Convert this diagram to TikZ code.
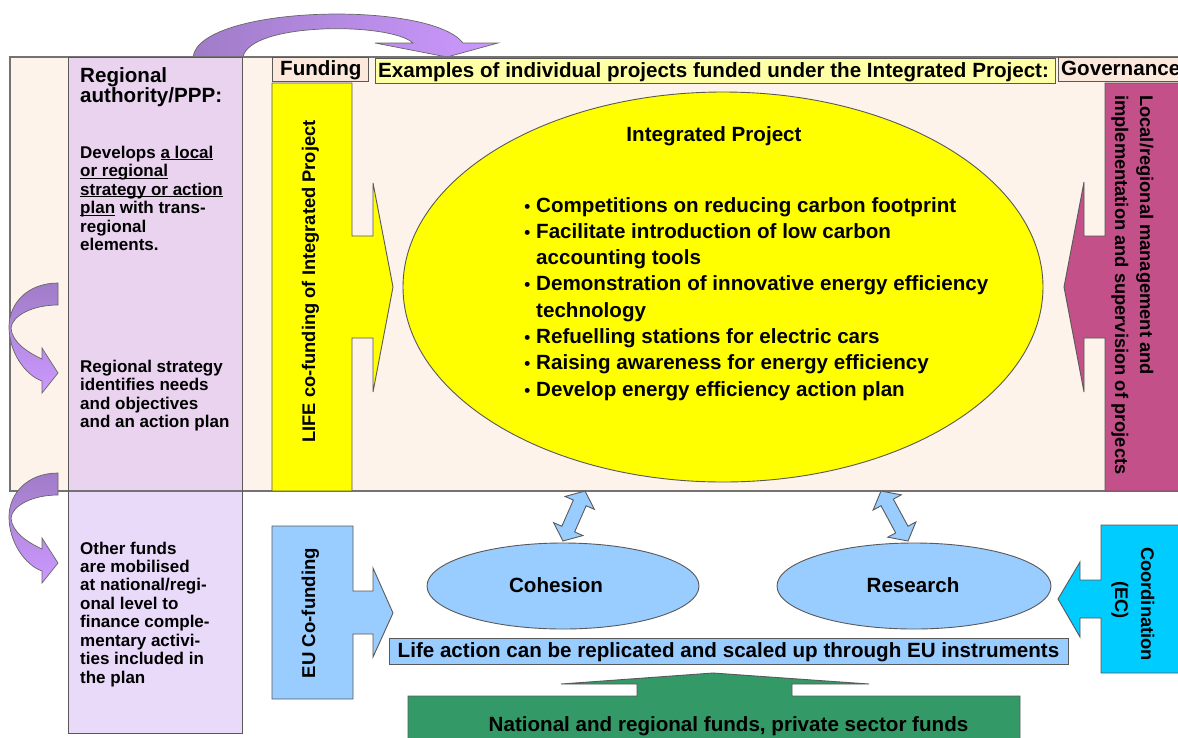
\documentclass[tikz,border=0pt]{standalone}
\usepackage{fontspec}
\setmainfont{Liberation Sans}
\usetikzlibrary{calc,shapes.geometric}
\definecolor{peach}{HTML}{FDF3EA}
\definecolor{colup}{HTML}{E9D3EF}
\definecolor{collo}{HTML}{EADAFA}
\definecolor{lblpeach}{HTML}{FCE9DB}
\definecolor{lblyellow}{HTML}{FFFFA5}
\definecolor{lifeyellow}{HTML}{FFFF00}
\definecolor{magentaarrow}{HTML}{C4508A}
\definecolor{lightblue}{HTML}{99CCFF}
\definecolor{cyanarrow}{HTML}{00CCFF}
\definecolor{greenbox}{HTML}{339966}
\definecolor{purpledark}{HTML}{A07CC8}
\definecolor{purplelight}{HTML}{CC99FF}
\newcommand\myul[1]{\setbox0\hbox{#1}\rlap{\rule[-2.4pt]{\wd0}{1.2pt}}\box0\relax}
\newcommand\blockdbl[2]{%
  \coordinate (da) at ($(#1)!13pt!(#2)$);
  \coordinate (db) at ($(#2)!13pt!(#1)$);
  \path[edge, fill=lightblue] (#1) -- ($(da)!16pt!90:(#2)$) -- ($(da)!7pt!90:(#2)$)
    -- ($(db)!7pt!-90:(#1)$) -- ($(db)!16pt!-90:(#1)$) -- (#2)
    -- ($(db)!16pt!90:(#1)$) -- ($(db)!7pt!90:(#1)$)
    -- ($(da)!7pt!-90:(#2)$) -- ($(da)!16pt!-90:(#2)$) -- cycle;}
\begin{document}
\begin{tikzpicture}[x=1pt,y=-1pt,
  edge/.style={draw=black!65, line width=0.9pt},
  bandedge/.style={draw=black!55, line width=1.3pt},
  lt/.style={inner sep=0pt, font=\bfseries\fontsize{17}{18.5}\selectfont, anchor=base west},
  hd/.style={inner sep=0pt, font=\bfseries\fontsize{20.6}{24}\selectfont},
  vt/.style={inner sep=0pt, font=\bfseries\fontsize{18.3}{22}\selectfont},
  curvarrow/.style={draw=black!60, line width=0.7pt, top color=purpledark, bottom color=purplelight},
  ]
\useasboundingbox (0,0) rectangle (1178,737);
\clip (0,0) rectangle (1178,737);
\fill[white] (0,0) rectangle (1178,737);

% top arc arrow
\path[draw=black!60, line width=0.7pt, left color=purpledark, right color=purplelight]
  (193,57) .. controls (200,5) and (430,0) .. (463,43) -- (498,43) -- (447,57) -- (375,43) -- (413,43)
  .. controls (390,22) and (250,22) .. (243,57) -- cycle;

% band and column
\fill[peach] (10,57) rectangle (1190,491);
\fill[colup] (68,57) rectangle (242,491);
\fill[collo] (68,491) rectangle (242,733);
\draw[bandedge] (1190,57) -- (10,57) -- (10,491) -- (1190,491);
\draw[edge] (68,57) rectangle (242,733);

% label boxes
\draw[edge, fill=lblpeach] (272,57) rectangle (368,81);
\draw[edge, fill=lblyellow] (375,58) rectangle (1055,83);
\draw[edge, fill=lblpeach] (1058,57) rectangle (1190,81);
\node[hd, anchor=base west] (funding) at (280,75) {Funding};
\node[hd, anchor=base west] (examples) at (378,77) {Examples of individual projects funded under the Integrated Project:};
\node[hd, anchor=base west] (governance) at (1061,75) {Governance};

% yellow LIFE arrow
\path[edge, fill=lifeyellow] (272,83) -- (352,83) -- (352,236) -- (373,236) -- (373,183) -- (393,287)
  -- (373,392) -- (373,338) -- (352,338) -- (352,491) -- (272,491) -- cycle;
\node[vt, rotate=90, anchor=base] (life) at (315,281.5) {LIFE co-funding of Integrated Project};

% magenta governance arrow
\path[edge, fill=magentaarrow] (1105,83) -- (1190,83) -- (1190,491) -- (1105,491) -- (1105,338) -- (1084,338)
  -- (1084,392) -- (1064,287) -- (1084,182) -- (1084,236) -- (1105,236) -- cycle;
\node[vt, rotate=-90, anchor=base west] (gov1) at (1140,95) {Local/regional management and};
\node[vt, rotate=-90, anchor=base west] (gov2) at (1115,95) {implementation and supervision of projects};

% integrated project ellipse
\node[ellipse, edge, fill=lifeyellow, minimum width=640pt, minimum height=390pt, inner sep=0pt] (ipell) at (723,287) {};
\node[hd, anchor=base] (iptitle) at (714,141) {Integrated Project};
\node[hd, anchor=base west, font=\bfseries\fontsize{20.6}{26.3}\selectfont] (bullets) at (536,212) {\vtop{\lineskiplimit=-30pt
  \hbox{\llap{{\fontsize{17}{17}\selectfont\textbullet}\hspace{6pt}}Competitions on reducing carbon footprint}
  \hbox{\llap{{\fontsize{17}{17}\selectfont\textbullet}\hspace{6pt}}Facilitate introduction of low carbon}
  \hbox{accounting tools}
  \hbox{\llap{{\fontsize{17}{17}\selectfont\textbullet}\hspace{6pt}}Demonstration of innovative energy efficiency}
  \hbox{technology}
  \hbox{\llap{{\fontsize{17}{17}\selectfont\textbullet}\hspace{6pt}}Refuelling stations for electric cars}
  \hbox{\llap{{\fontsize{17}{17}\selectfont\textbullet}\hspace{6pt}}Raising awareness for energy efficiency}
  \hbox{\llap{{\fontsize{17}{17}\selectfont\textbullet}\hspace{6pt}}Develop energy efficiency action plan}}};

% left column texts
\node[lt, font=\bfseries\fontsize{20.6}{20}\selectfont] (ra) at (80,82) {\vtop{\lineskiplimit=-30pt\hbox{Regional}\hbox{authority/PPP:}}};
\node[lt] (dev) at (80,158) {\vtop{\lineskiplimit=-30pt
  \hbox{Develops \myul{a local}}
  \hbox{\myul{or regional}}
  \hbox{\myul{strategy or action}}
  \hbox{\myul{plan} with trans-}
  \hbox{regional}
  \hbox{elements.}}};
\node[lt] (rs) at (80,372) {\vtop{\lineskiplimit=-30pt
  \hbox{Regional strategy}
  \hbox{identifies needs}
  \hbox{and objectives}
  \hbox{and an action plan}}};
\node[lt, font=\bfseries\fontsize{17}{18.43}\selectfont] (of) at (80,554) {\vtop{\lineskiplimit=-30pt
  \hbox{Other funds}
  \hbox{are mobilised}
  \hbox{at national/regi-}
  \hbox{onal level to}
  \hbox{finance comple-}
  \hbox{mentary activi-}
  \hbox{ties included in}
  \hbox{the plan}}};

% bottom: EU co-funding arrow
\path[edge, fill=lightblue] (272,526) -- (353,526) -- (353,591) -- (373,591) -- (373,568) -- (393,613)
  -- (373,657) -- (373,634) -- (353,634) -- (353,699) -- (272,699) -- cycle;
\node[vt, rotate=90, anchor=base, font=\bfseries\fontsize{18.6}{22}\selectfont] (eu) at (315,613) {EU Co-funding};

% coordination arrow
\path[edge, fill=cyanarrow] (1101,525) -- (1190,525) -- (1190,673) -- (1101,673) -- (1101,618) -- (1080,618)
  -- (1080,637) -- (1058,599) -- (1080,562) -- (1080,580) -- (1101,580) -- cycle;
\node[vt, rotate=-90, anchor=base] (coord) at (1141,604) {Coordination};
\node[vt, rotate=-90, anchor=base] (ec) at (1115,600) {(EC)};

% cohesion / research
\node[ellipse, edge, fill=lightblue, minimum width=272pt, minimum height=86pt, inner sep=0pt] (coh) at (563,586) {};
\node[ellipse, edge, fill=lightblue, minimum width=274pt, minimum height=86pt, inner sep=0pt] (res) at (914,586) {};
\node[hd, anchor=base] (cohtxt) at (556,592) {Cohesion};
\node[hd, anchor=base] (restxt) at (913,592) {Research};

% double arrows
\coordinate (dlT) at (585,491);
\coordinate (dlB) at (563,541);
\coordinate (drT) at (881,491);
\coordinate (drB) at (908,541);
\blockdbl{dlT}{dlB}
\blockdbl{drT}{drB}

% life action box
\draw[edge, fill=lightblue] (389,638) rectangle (1068,664);
\node[hd, anchor=base] (lifeaction) at (728.5,657) {Life action can be replicated and scaled up through EU instruments};

% green funds
\path[edge, fill=greenbox] (408,745) -- (408,696) -- (637,696) -- (637,684) -- (561,684) -- (713,673)
  -- (869,684) -- (792,684) -- (792,696) -- (1020,696) -- (1020,745) -- cycle;
\node[hd, anchor=base] (national) at (728.5,731) {National and regional funds, private sector funds};

% left curved arrows
\path[curvarrow] (58,283) .. controls (28,283) and (9,303) .. (9,327) .. controls (9,352) and (25,375) .. (42,381)
  -- (42,393) -- (58,373) -- (42,348) -- (42,359) .. controls (27,352) and (12,342) .. (11,328)
  .. controls (12,316) and (32,305) .. (58,305) -- cycle;
\begin{scope}[shift={(0,190)}]
\path[curvarrow] (58,283) .. controls (28,283) and (9,303) .. (9,327) .. controls (9,352) and (25,375) .. (42,381)
  -- (42,393) -- (58,373) -- (42,348) -- (42,359) .. controls (27,352) and (12,342) .. (11,328)
  .. controls (12,316) and (32,305) .. (58,305) -- cycle;
\end{scope}
\end{tikzpicture}
\end{document}
